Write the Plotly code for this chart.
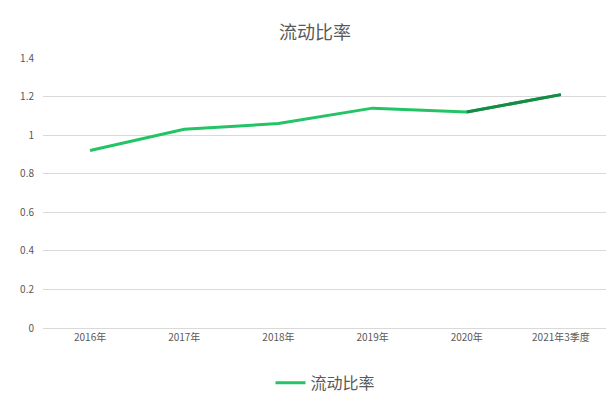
import plotly.graph_objects as go

categories = ["2016年", "2017年", "2018年", "2019年", "2020年", "2021年3季度"]
ratio = [0.92, 1.03, 1.06, 1.14, 1.12, 1.21]

font = "Noto Sans CJK SC"

fig = go.Figure()
fig.add_trace(go.Scatter(
    x=categories, y=ratio, mode="lines", name="流动比率",
    line=dict(color="#22c466", width=3),
))
# darker tail segment
fig.add_trace(go.Scatter(
    x=categories[-2:], y=ratio[-2:], mode="lines", showlegend=False,
    line=dict(color="#178a45", width=3), hoverinfo="skip",
))

fig.update_layout(
    width=614, height=404,
    paper_bgcolor="white", plot_bgcolor="white",
    font=dict(family=font, color="#595959", size=10),
    title=dict(text="流动比率", x=0.5, y=0.955, xanchor="center",
               font=dict(size=18, color="#595959", family=font)),
    margin=dict(l=33, r=14, t=50, b=78),
    xaxis=dict(type="category", range=[-0.5, 5.5], showgrid=False,
               showline=True, linecolor="#d9d9d9", ticks="",
               tickfont=dict(size=10)),
    yaxis=dict(range=[0, 1.4], showgrid=True, gridcolor="#d9d9d9",
               zeroline=False, tickfont=dict(size=10), ticklabelstandoff=8,
               tickvals=[0, 0.2, 0.4, 0.6, 0.8, 1, 1.2, 1.4],
               ticktext=["0", "0.2", "0.4", "0.6", "0.8", "1", "1.2", "1.4"]),
    legend=dict(orientation="h", x=0.5, xanchor="center", y=-0.14, yanchor="top",
                font=dict(size=16, color="#595959")),
)

fig.write_html("out.html")
